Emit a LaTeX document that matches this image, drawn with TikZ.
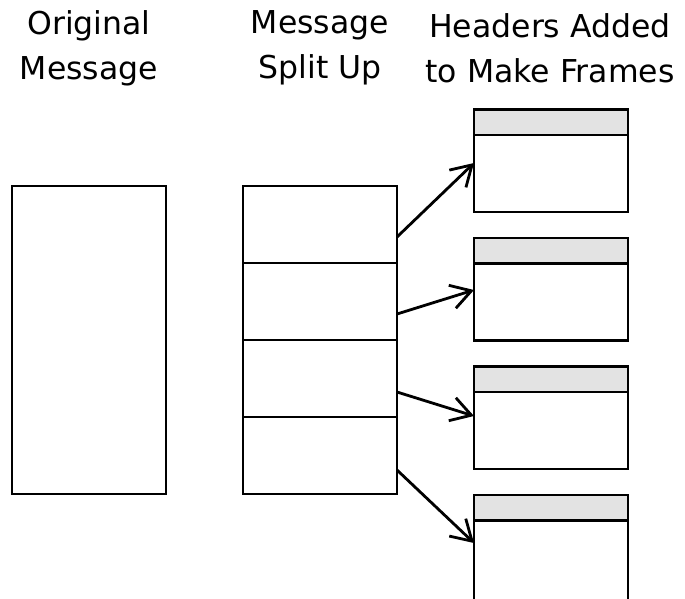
\documentclass[tikz,border=0pt]{standalone}
\usepackage{fontspec}
\setmainfont{DejaVu Sans}
\usetikzlibrary{arrows.meta}
\begin{document}
\begin{tikzpicture}[x=1pt,y=-1pt,
  box/.style={draw=black, line width=2.8pt, minimum width=154pt, inner sep=0pt, outer sep=0pt, anchor=north west},
  segbox/.style={box, minimum height=77pt},
  hdrbox/.style={box, fill=black!11, minimum height=25.5pt},
  bodybox/.style={box, anchor=north, fill=white, minimum height=77pt},
  title/.style={font=\fontsize{31.5}{45}\selectfont, align=center, inner sep=0pt},
  arr/.style={line width=2.8pt, -{Straight Barb[length=20pt,width=24pt]}}
]
\useasboundingbox (0,0) rectangle (685,598);
\clip (0,0) rectangle (685,598);
% titles
\node[title] (t1) at (89,48) {Original\\Message};
\node[title] (t2) at (320,48) {Message\\Split Up};
\node[title] (t3) at (550,48) {Headers Added\\to Make Frames};
% original message
\node[box, minimum height=308pt] (orig) at (12,186) {};
% split message
\node[segbox] (s1) at (243,186) {};
\node[segbox] (s2) at (243,263) {};
\node[segbox] (s3) at (243,340) {};
\node[segbox] (s4) at (243,417) {};
% frames
\node[hdrbox] (h1) at (474,109.5) {};
\node[bodybox] (b1) at (h1.south) {};
\node[hdrbox] (h2) at (474,238) {};
\node[bodybox] (b2) at (h2.south) {};
\node[hdrbox] (h3) at (474,366.5) {};
\node[bodybox] (b3) at (h3.south) {};
\node[hdrbox] (h4) at (474,495) {};
\node[bodybox, minimum height=80pt] (b4) at (h4.south) {};
% arrows
\draw[arr] ([yshift=-12.5pt]s1.east) -- ([yshift=10.5pt]b1.west);
\draw[arr] ([yshift=-12.5pt]s2.east) -- ([yshift=12pt]b2.west);
\draw[arr] ([yshift=-13.5pt]s3.east) -- ([yshift=14.5pt]b3.west);
\draw[arr] ([yshift=-14.5pt]s4.east) -- ([yshift=17.5pt]b4.west);
\end{tikzpicture}
\end{document}
